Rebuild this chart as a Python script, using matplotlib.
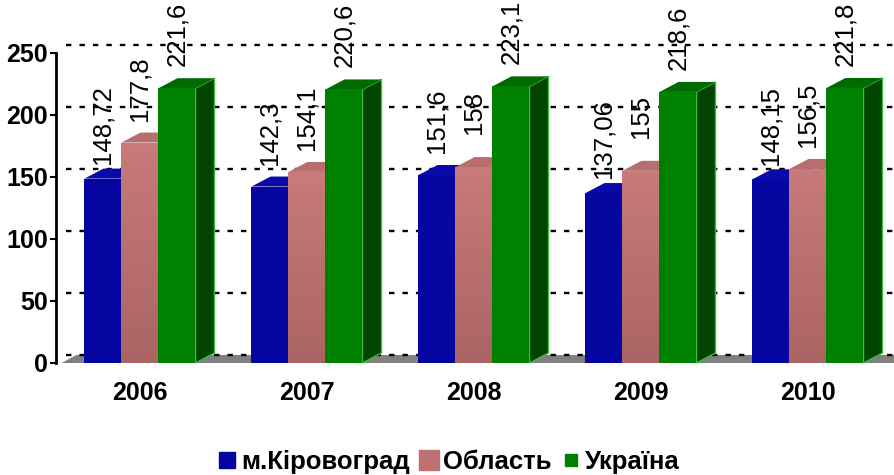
import matplotlib
matplotlib.use("Agg")
import matplotlib.pyplot as plt
import numpy as np
from matplotlib.patches import Polygon, Rectangle
from matplotlib.lines import Line2D
from matplotlib.colors import LinearSegmentedColormap

plt.rcParams['font.family'] = ['Liberation Sans', 'DejaVu Sans']

years = ['2006', '2007', '2008', '2009', '2010']
series_names = ['м.Кіровоград', 'Область', 'Україна']
kirovohrad = [148.72, 142.3, 151.6, 137.06, 148.15]
oblast = [177.8, 154.1, 158.0, 155.0, 156.5]
ukraine = [221.6, 220.6, 223.1, 218.6, 221.8]
yticks = [0, 50, 100, 150, 200, 250]

W, H = 895, 475
fig = plt.figure(figsize=(W / 100, H / 100), dpi=100)
ax_l, ax_r, ax_b, ax_t = 56.5, 891.5, 363, 53  # pixel coords (y from top)
ax = fig.add_axes([ax_l / W, (H - ax_b) / H, (ax_r - ax_l) / W, (ax_b - ax_t) / H])
ax.set_xlim(-0.5, 4.5)
ax.set_ylim(0, 250)

px_x = (ax_r - ax_l) / 5.0      # pixels per category unit
px_y = (ax_b - ax_t) / 250.0    # pixels per value unit
def dxp(p):
    return p / px_x
def dyp(p):
    return p / px_y

# floor
floor = Polygon([(-0.5 + dxp(5), 0), (-0.5 + dxp(20), dyp(8)),
                 (4.5 + dxp(5), dyp(8)), (4.5 + dxp(5), 0)],
                closed=True, facecolor='#808080', edgecolor='none',
                clip_on=False, zorder=1)
ax.add_patch(floor)

# back-wall gridlines
for v in yticks:
    ax.plot([-0.5 + dxp(10), 4.5 + dxp(2)], [v + dyp(8), v + dyp(8)],
            color='black', lw=1.7, linestyle=(0, (2.3, 3.4)),
            clip_on=False, zorder=2, solid_capstyle='butt', dash_capstyle='butt')

bw = 37.0 / px_x
ddx, ddy = dxp(19), dyp(10)
front_cols = ['#0505A0', None, '#008000']
top_cols = ['#0A0AAA', '#B86E6E', '#006A00']
side_cols = ['#030370', '#8A5050', '#004400']
pink_cmap = LinearSegmentedColormap.from_list('pk', ['#AA6464', '#C97A7A'])
grad = np.linspace(0, 1, 256).reshape(-1, 1)

data = [kirovohrad, oblast, ukraine]
z = 3
for j in range(len(years)):
    for i, vals in enumerate(data):
        v = vals[j]
        x0 = j - 1.5 * bw + i * bw
        side = Polygon([(x0 + bw, 0), (x0 + bw + ddx, ddy), (x0 + bw + ddx, v + ddy), (x0 + bw, v)],
                       closed=True, facecolor=side_cols[i],
                       edgecolor='#3CBF3C' if i == 2 else 'none', lw=1.0,
                       clip_on=False, zorder=z)
        ax.add_patch(side)
        top = Polygon([(x0, v), (x0 + ddx, v + ddy), (x0 + bw + ddx, v + ddy), (x0 + bw, v)],
                      closed=True, facecolor=top_cols[i], edgecolor='none',
                      clip_on=False, zorder=z)
        ax.add_patch(top)
        if i == 1:
            rect = Rectangle((x0, 0), bw, v, facecolor='none', edgecolor='none', zorder=z + 0.5)
            ax.add_patch(rect)
            im = ax.imshow(grad, cmap=pink_cmap, extent=[x0, x0 + bw, 0, v],
                           origin='lower', aspect='auto', zorder=z + 0.5, interpolation='bilinear')
            im.set_clip_path(rect)
        else:
            rect = Rectangle((x0, 0), bw, v, facecolor=front_cols[i], edgecolor='none',
                             zorder=z + 0.5)
            ax.add_patch(rect)
        lbl = f"{v:g}".replace('.', ',')
        ax.annotate(lbl, (x0 + bw / 2, v), xytext=(0, 39), textcoords='offset points',
                    rotation=90, ha='center', va='center', fontsize=18.5,
                    color='black', zorder=20, annotation_clip=False)
        z += 1

ax.set_xlim(-0.5, 4.5)
ax.set_ylim(0, 250)

for s in ['top', 'right', 'bottom']:
    ax.spines[s].set_visible(False)
ax.spines['left'].set_linewidth(2)
ax.spines['left'].set_zorder(30)
ax.set_yticks(yticks)
ax.set_yticklabels([str(t) for t in yticks], fontsize=18, fontweight='bold')
ax.tick_params(axis='y', length=4, width=1.5, pad=2)
ax.set_xticks(range(len(years)))
ax.set_xticklabels(years, fontsize=18, fontweight='bold')
ax.tick_params(axis='x', length=0, pad=13)
ax.set_facecolor('none')

handles = [Line2D([], [], marker='s', linestyle='none', markersize=11, color='#0505A0'),
           Line2D([], [], marker='s', linestyle='none', markersize=14, color='#BC7070'),
           Line2D([], [], marker='s', linestyle='none', markersize=8, color='#008000')]
fig.legend(handles, series_names, loc='center', bbox_to_anchor=(0.5, 13 / H), ncol=3,
           frameon=False, prop={'size': 18.5, 'weight': 'bold'},
           handletextpad=0.1, columnspacing=0.3, handlelength=0.9)

fig.savefig('out.png', dpi=100)
